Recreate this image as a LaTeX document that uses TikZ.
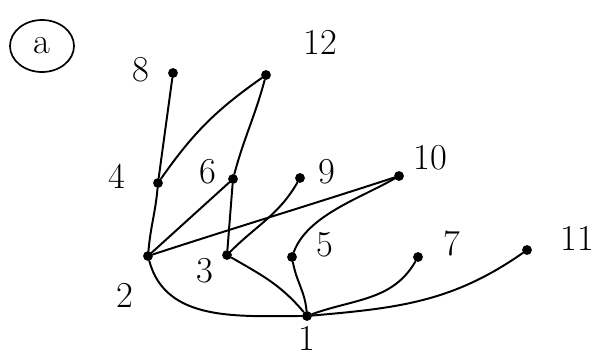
\documentclass[tikz,border=0pt]{standalone}
\usepackage{tikz}
\usetikzlibrary{shapes.geometric}

\tikzset{
  vtx/.style={circle, fill=black, inner sep=0pt, minimum size=7pt},
  numlab/.style={font=\fontsize{26}{30}\selectfont},
  edge/.style={line width=1.4pt, line cap=round}
}

\begin{document}
\begin{tikzpicture}[x=0.025cm, y=-0.025cm]
        \useasboundingbox (0,0) rectangle (596,356);
        % vertices of the divisibility diagram
        \foreach \name/\px/\py in {v1/307/316, v2/148/256, v3/227/255, v5/292/257, v7/418/257, v11/527/250,
                                  v4/158/183, v6/233/179, v9/300/178, v10/399/176, v8/173/73, v12/266/75} {
            \node[vtx] (\name) at (\px,\py) {};
        }
        % labels
        \foreach \name/\px/\py/\txt in {l1/307/338/1, l2/125/295/2, l3/205/271/3, l5/325/245/5, l7/452/243/7, l11/577/238/11,
                                       l4/117/176/4, l6/208/172/6, l9/327/172/9, l10/430/158/10, l8/141/70/8, l12/320/42/12} {
            \node[numlab] (\name) at (\px,\py) {\txt};
        }
        \node[numlab, draw, ellipse, line width=1.2pt, inner sep=0pt, minimum width=1.6cm, minimum height=1.3cm] (tag) at (42,46) {a};
        % covering relations
        \draw[edge] (v2) to[out=-75, in=180] (v1);
        \draw[edge] (v3) to[out=-30, in=130] (v1);
        \draw[edge] (v5) to[out=-80, in=95] (v1);
        \draw[edge] (v1) to[out=20, in=-120] (v7);
        \draw[edge] (v1) to[out=5, in=-145] (v11);
        \draw[edge] (v2) to[out=85, in=-95] (v4);
        \draw[edge] (v2) -- (v6);
        \draw[edge] (v2) to[out=18, in=-162] (v10);
        \draw[edge] (v3) -- (v6);
        \draw[edge] (v3) to[out=45, in=-120] (v9);
        \draw[edge] (v5) to[out=70, in=-150, looseness=0.8] (v10);
        \draw[edge] (v4) -- (v8);
        \draw[edge] (v4) to[out=55, in=-145] (v12);
        \draw[edge] (v6) to[out=75, in=-105] (v12);
\end{tikzpicture}
\end{document}
